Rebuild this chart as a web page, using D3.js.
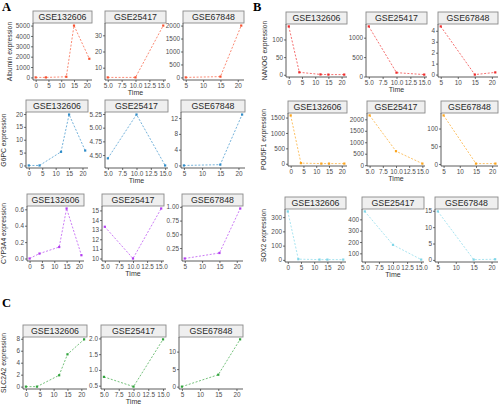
<!DOCTYPE html>
<html>
<head>
<meta charset="utf-8">
<script src="https://cdn.jsdelivr.net/npm/d3@7"></script>
<style>
  body { margin: 0; background: #fff; }
  svg text { font-family: "Liberation Sans", Arial, sans-serif; }
</style>
</head>
<body>
<svg id="chart" width="500" height="406"></svg>
<script>
// datasets and their sampling times
var datasets = ["GSE132606", "GSE25417", "GSE67848"];
var times = [[0, 4, 12, 15, 21], [5, 10, 15], [5, 15, 21]];
var xTickLabels = [["0", "5", "10", "15", "20"], ["5.0", "7.5", "10.0", "12.5", "15.0"], ["5", "10", "15", "20"]];

// expression values, one list per dataset
var albumin = [[0, 0, 60, 5000, 1800], [4, 4, 36], [0, 30, 2000]];
var g6pc = [[0, 0, 5.3, 19.8, 5.8], [4.44, 5.24, 4.31], [0, 0.2, 12.9]];
var cyp3a4 = [[0, 0.06, 0.14, 0.61, 0.04], [13.3, 10.0, 15.2], [0.06, 0.16, 0.97]];
var slc2a2 = [[0, 0, 1.9, 5.4, 7.9], [0.78, 0.47, 1.97], [0, 3.4, 13.5]];
var nanog = [[137, 7, 1, 0.5, 0.5], [1290, 100, 50], [4.4, 0, 0.2]];
var pou5f1 = [[1570, 20, 5, 5, 5], [2170, 610, 70], [137, 1, 1]];
var sox2 = [[340, 5, 2, 2, 2], [470, 175, 45], [14.8, 0.1, 0.2]];

// y tick labels
var albuminTicks = [["0", "1000", "2000", "3000", "4000", "5000"], ["10", "20", "30"], ["0", "500", "1000", "1500", "2000"]];
var g6pcTicks = [["0", "5", "10", "15", "20"], ["4.50", "4.75", "5.00", "5.25"], ["0", "4", "8", "12"]];
var cyp3a4Ticks = [["0.0", "0.2", "0.4", "0.6"], ["10", "11", "12", "13", "14", "15"], ["0.25", "0.50", "0.75", "1.00"]];
var slc2a2Ticks = [["0", "2", "4", "6", "8"], ["0.5", "1.0", "1.5", "2.0"], ["0", "5", "10"]];
var nanogTicks = [["0", "50", "100"], ["0", "500", "1000"], ["0", "1", "2", "3", "4"]];
var pou5f1Ticks = [["0", "500", "1000", "1500"], ["0", "500", "1000", "1500", "2000"], ["0", "50", "100"]];
var sox2Ticks = [["0", "100", "200", "300"], ["100", "200", "300", "400"], ["0", "5", "10", "15"]];

// layout of each row of panels
var rows = [
  {name: "Albumin", vals: albumin, ticks: albuminTicks, color: "#f8512f", top: 11, bottom: 80, labX: 12,
   xs: [[33, 92], [105, 166], [183, 244]]},
  {name: "G6PC", vals: g6pc, ticks: g6pcTicks, color: "#2f8cc8", top: 100, bottom: 168, labX: 6,
   xs: [[26, 88], [105, 168], [181, 245]]},
  {name: "CYP3A4", vals: cyp3a4, ticks: cyp3a4Ticks, color: "#b23cf0", top: 194, bottom: 261, labX: 6,
   xs: [[27, 84], [102, 164], [182, 243]]},
  {name: "SLC2A2", vals: slc2a2, ticks: slc2a2Ticks, color: "#2fa33a", top: 325, bottom: 389, labX: 6,
   xs: [[23, 87], [101, 166], [179, 243]]},
  {name: "NANOG", vals: nanog, ticks: nanogTicks, color: "#ee2a2a", top: 12, bottom: 77, labX: 267,
   xs: [[286, 347], [366, 427], [438, 498]]},
  {name: "POU5F1", vals: pou5f1, ticks: pou5f1Ticks, color: "#fba41c", top: 101, bottom: 166, labX: 266,
   xs: [[288, 347], [367, 425], [441, 498]]},
  {name: "SOX2", vals: sox2, ticks: sox2Ticks, color: "#7fd6e8", top: 197, bottom: 262, labX: 266,
   xs: [[285, 346], [362, 424], [435, 498]]}
];

var svg = d3.select("#chart");
var stripH = 12;
var fontFam = "Liberation Sans, Arial, sans-serif";

function expand(ext) {
  var pad = (ext[1] - ext[0]) * 0.05;
  return [ext[0] - pad, ext[1] + pad];
}

rows.forEach(function(row) {
  var plotTop = row.top + stripH;

  for (var k = 0; k < 3; k++) {
    var left = row.xs[k][0], right = row.xs[k][1];
    var pts = times[k].map(function(t, i) { return {t: t, v: row.vals[k][i]}; });

    var x = d3.scaleLinear().domain(expand(d3.extent(times[k]))).range([left, right]);
    var y = d3.scaleLinear().domain(expand(d3.extent(row.vals[k]))).range([row.bottom, plotTop]);

    // strip
    svg.append("rect")
      .attr("x", left).attr("y", row.top)
      .attr("width", right - left).attr("height", stripH)
      .attr("fill", "#efefef").attr("stroke", "#8a8a8a").attr("stroke-width", 0.9);
    svg.append("text")
      .attr("x", (left + right) / 2).attr("y", row.top + stripH / 2 + 3.2)
      .attr("text-anchor", "middle").attr("font-size", "8.8px").attr("fill", "#2a2a2a")
      .text(datasets[k]);

    var yLabels = row.ticks[k];
    var yAxis = d3.axisLeft(y)
      .tickValues(yLabels.map(Number))
      .tickFormat(function(d, i) { return yLabels[i]; })
      .tickSize(2).tickPadding(1).tickSizeOuter(0);
    var gy = svg.append("g").attr("transform", "translate(" + left + ",0)").call(yAxis);

    var xLabels = xTickLabels[k];
    var xAxis = d3.axisBottom(x)
      .tickValues(xLabels.map(Number))
      .tickFormat(function(d, i) { return xLabels[i]; })
      .tickSize(2).tickPadding(1).tickSizeOuter(0);
    var gx = svg.append("g").attr("transform", "translate(0," + row.bottom + ")").call(xAxis);

    [gx, gy].forEach(function(g) {
      g.attr("font-family", fontFam).attr("font-size", 6.4);
      g.select(".domain").attr("stroke", "#333").attr("stroke-width", 0.8)
        .attr("d", g === gx ? "M" + left + ",0H" + right : "M0," + plotTop + "V" + row.bottom);
      g.selectAll(".tick line").attr("stroke", "#333").attr("stroke-width", 0.7);
      g.selectAll(".tick text").attr("fill", "#4d4d4d");
    });

    var line = d3.line().x(function(d) { return x(d.t); }).y(function(d) { return y(d.v); });
    svg.append("path")
      .datum(pts)
      .attr("d", line)
      .attr("fill", "none").attr("stroke", row.color)
      .attr("stroke-width", 0.9).attr("stroke-dasharray", "2,1.6").attr("opacity", 0.75);

    svg.selectAll(null)
      .data(pts)
      .enter()
      .append("rect")
      .attr("x", function(d) { return x(d.t) - 1.1; })
      .attr("y", function(d) { return y(d.v) - 1.1; })
      .attr("width", 2.2).attr("height", 2.2)
      .attr("fill", row.color);
  }

  // y axis title
  var midY = (plotTop + row.bottom) / 2;
  svg.append("text")
    .attr("transform", "translate(" + row.labX + "," + midY + ") rotate(-90)")
    .attr("text-anchor", "middle").attr("font-size", "6.8px").attr("fill", "#333")
    .text(row.name + " expression");

  // x axis title under the middle panel
  svg.append("text")
    .attr("x", (row.xs[1][0] + row.xs[1][1]) / 2).attr("y", row.bottom + 14.5)
    .attr("text-anchor", "middle").attr("font-size", "7px").attr("fill", "#333")
    .text("Time");
});

// panel letters
var letters = [["A", 2, 11], ["B", 253, 11], ["C", 2, 307]];
svg.selectAll(".letter")
  .data(letters)
  .enter()
  .append("text")
  .attr("class", "letter")
  .attr("x", function(d) { return d[1]; })
  .attr("y", function(d) { return d[2]; })
  .style("font-family", "'Liberation Serif', 'Times New Roman', serif")
  .attr("font-weight", "bold").attr("font-size", "12.5px")
  .text(function(d) { return d[0]; });
</script>
</body>
</html>
